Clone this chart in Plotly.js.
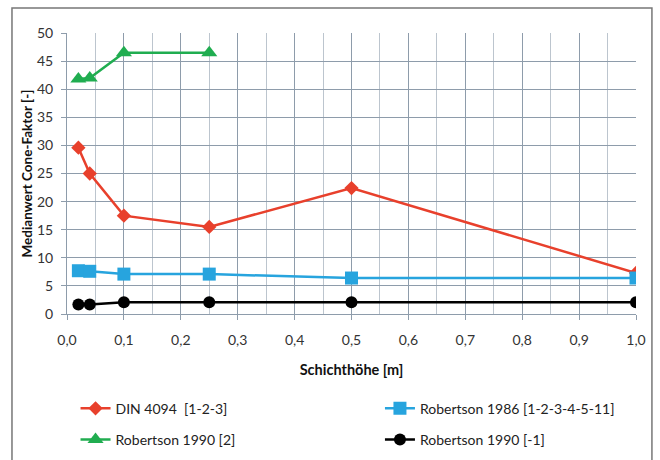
<!DOCTYPE html>
<html>
<head>
<meta charset="utf-8">
<script src="https://cdn.plot.ly/plotly-3.0.1.min.js"></script>
<style>html,body{margin:0;padding:0;background:#fff;}#chart{width:660px;height:460px;}</style>
</head>
<body>
<div id="chart"></div>
<script>
const seriesNames = ["DIN 4094  [1-2-3]", "Robertson 1986 [1-2-3-4-5-11]", "Robertson 1990 [2]", "Robertson 1990 [-1]"];
const dinX = [0.02, 0.04, 0.1, 0.25, 0.5, 1.0];
const dinY = [29.6, 25.0, 17.5, 15.5, 22.4, 7.3];
const rob1986X = [0.02, 0.04, 0.1, 0.25, 0.5, 1.0];
const rob1986Y = [7.7, 7.6, 7.1, 7.1, 6.4, 6.4];
const rob1990aX = [0.02, 0.04, 0.1, 0.25];
const rob1990aY = [41.8, 42.0, 46.5, 46.5];
const rob1990bX = [0.02, 0.04, 0.1, 0.25, 0.5, 1.0];
const rob1990bY = [1.7, 1.7, 2.1, 2.1, 2.1, 2.1];
const xTicks = [0, 0.1, 0.2, 0.3, 0.4, 0.5, 0.6, 0.7, 0.8, 0.9, 1.0];
const xTickLabels = ["0,0","0,1","0,2","0,3","0,4","0,5","0,6","0,7","0,8","0,9","1,0"];
const yTicks = [0, 5, 10, 15, 20, 25, 30, 35, 40, 45, 50];

const font = "Lato, 'Open Sans', sans-serif";
const traces = [
  {x: dinX, y: dinY, name: seriesNames[0], mode: "lines+markers", legend: "legend", legendgroup: "a",
   line: {color: "#e8402c", width: 2.5}, marker: {symbol: "diamond", size: 11, color: "#e8402c"}},
  {x: rob1986X, y: rob1986Y, name: seriesNames[1], mode: "lines+markers", legend: "legend2", legendgroup: "b",
   line: {color: "#27a4de", width: 2.5}, marker: {symbol: "square", size: 13, color: "#27a4de"}},
  {x: rob1990aX, y: rob1990aY, name: seriesNames[2], mode: "lines+markers", legend: "legend", legendgroup: "c",
   line: {color: "#20ad50", width: 2.5}, marker: {symbol: "triangle-up", size: 14, color: "#20ad50"}},
  {x: rob1990bX, y: rob1990bY, name: seriesNames[3], mode: "lines+markers", legend: "legend2", legendgroup: "d",
   line: {color: "#000000", width: 2.5}, marker: {symbol: "circle", size: 12, color: "#000000"}}
];

const legendCommon = {
  orientation: "v", bgcolor: "rgba(0,0,0,0)", borderwidth: 0,
  font: {family: font, size: 14, color: "#222"},
  tracegroupgap: 10, traceorder: "grouped", itemwidth: 30,
  xanchor: "left", yanchor: "top"
};

const layout = {
  width: 660, height: 460,
  margin: {l: 67, r: 24, t: 33, b: 146, autoexpand: false},
  paper_bgcolor: "#ffffff", plot_bgcolor: "#ffffff",
  separators: ", ",
  font: {family: font, size: 14, color: "#333"},
  showlegend: true,
  xaxis: {
    range: [0, 1.0], tickvals: xTicks, ticktext: xTickLabels, automargin: false,
    showgrid: true, gridcolor: "#8e9cab", gridwidth: 1,
    minor: {dtick: 0.05, showgrid: true, gridcolor: "#bcc5ce", gridwidth: 1},
    ticks: "outside", ticklen: 5, tickcolor: "#8e9cab",
    showline: true, linecolor: "#8e9cab", linewidth: 1,
    zeroline: false, ticklabelstandoff: 8,
    tickfont: {family: font, size: 14, color: "#333"},
    title: {text: "<b>Schichthöhe [m]</b>", font: {family: font, size: 14.5, color: "#111"}, standoff: 18}
  },
  yaxis: {
    range: [0, 50], tickvals: yTicks, automargin: false,
    showgrid: true, gridcolor: "#8e9cab", gridwidth: 1,
    ticks: "outside", ticklen: 5, tickcolor: "#8e9cab",
    showline: true, linecolor: "#8e9cab", linewidth: 1,
    zeroline: false, ticklabelstandoff: 5,
    tickfont: {family: font, size: 14, color: "#333"},
    title: {text: "<b>Medianwert Cone-Faktor [-]</b>", font: {family: font, size: 13.5, color: "#111"}, standoff: 1}
  },
  legend: Object.assign({}, legendCommon, {x: 0.015, y: -0.28}),
  legend2: Object.assign({}, legendCommon, {x: 0.55, y: -0.28}),
  shapes: [
    {type: "rect", xref: "paper", yref: "paper", x0: -0.0967, x1: 1.028, y0: -0.6, y1: 1.089,
     line: {color: "#777", width: 1.5}, fillcolor: "rgba(0,0,0,0)", layer: "below"}
  ]
};

Plotly.newPlot("chart", traces, layout, {displayModeBar: false, staticPlot: true});
</script>
</body>
</html>
